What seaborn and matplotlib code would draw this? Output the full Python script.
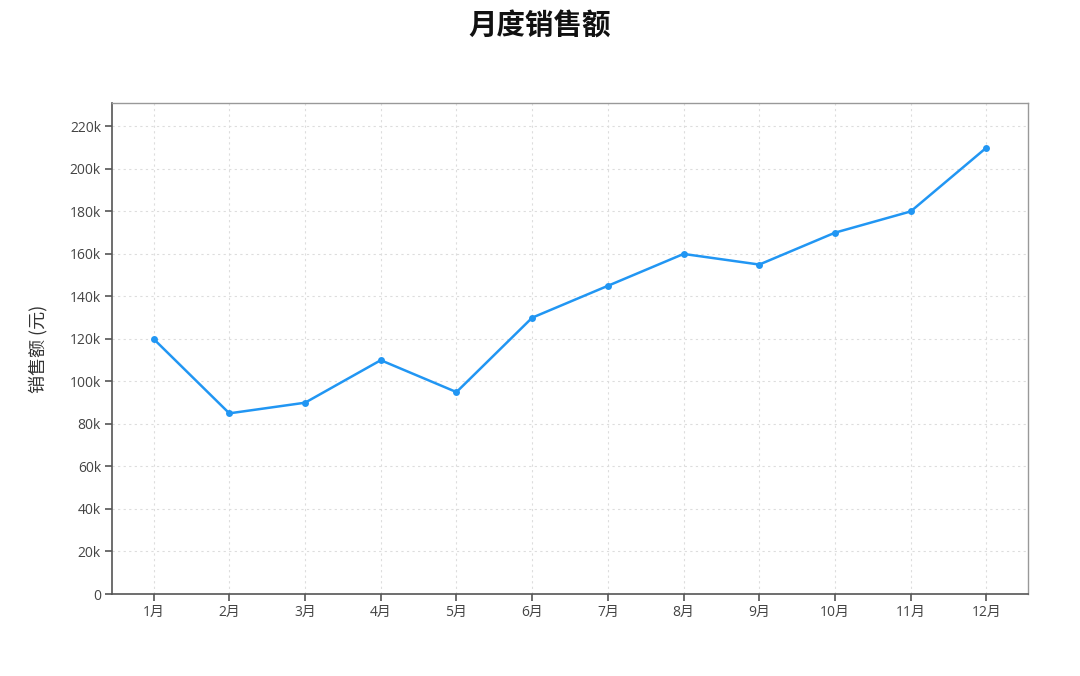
import pandas as pd
import matplotlib.pyplot as plt
import matplotlib.ticker as mticker
import seaborn as sns

# Données
months = ['1月', '2月', '3月', '4月', '5月', '6月', '7月', '8月', '9月', '10月', '11月', '12月']
sales = [120000, 85000, 90000, 110000, 95000, 130000, 145000, 160000, 155000, 170000, 180000, 210000]

df = pd.DataFrame({'month': range(len(months)), 'sales': sales})

sns.set_theme(style='white')
plt.rcParams['font.family'] = ['Open Sans', 'Noto Sans CJK SC', 'DejaVu Sans']
cjk = ['Noto Sans CJK SC', 'DejaVu Sans']

fig = plt.figure(figsize=(10.8, 6.76), dpi=100)
ax = fig.add_axes([0.1037, 0.1213, 0.8482, 0.7263])

sns.lineplot(data=df, x='month', y='sales', ax=ax, color='#2196F3', linewidth=1.8,
             marker='o', markersize=5, markeredgewidth=0)

ax.set_xlim(-0.55, len(months) - 0.45)
ax.set_ylim(0, max(sales) * 1.1)
ax.set_xticks(range(len(months)))
ax.set_xticklabels(months)
ax.yaxis.set_major_locator(mticker.MultipleLocator(20000))
ax.yaxis.set_major_formatter(mticker.FuncFormatter(lambda v, p: '0' if v == 0 else f'{int(v / 1000)}k'))

ax.grid(True, color='#dddddd', linestyle=(0, (2, 3)), linewidth=0.8)
for side in ['left', 'bottom']:
    ax.spines[side].set_color('#555555')
    ax.spines[side].set_linewidth(1.2)
for side in ['top', 'right']:
    ax.spines[side].set_color('#999999')
    ax.spines[side].set_linewidth(1.0)

ax.tick_params(axis='both', direction='out', length=5, width=1.2, color='#555555',
               labelsize=10, labelcolor='#444444', left=True, bottom=True, pad=3)

ax.set_xlabel('')
ax.set_ylabel('销售额 (元)', fontsize=13, color='#333333', labelpad=16, family=cjk)
fig.text(0.5, 0.96, '月度销售额', fontsize=20.5, fontweight='bold', ha='center', va='center',
         color='#111111', family=cjk)

fig.savefig('out.png', dpi=100)
